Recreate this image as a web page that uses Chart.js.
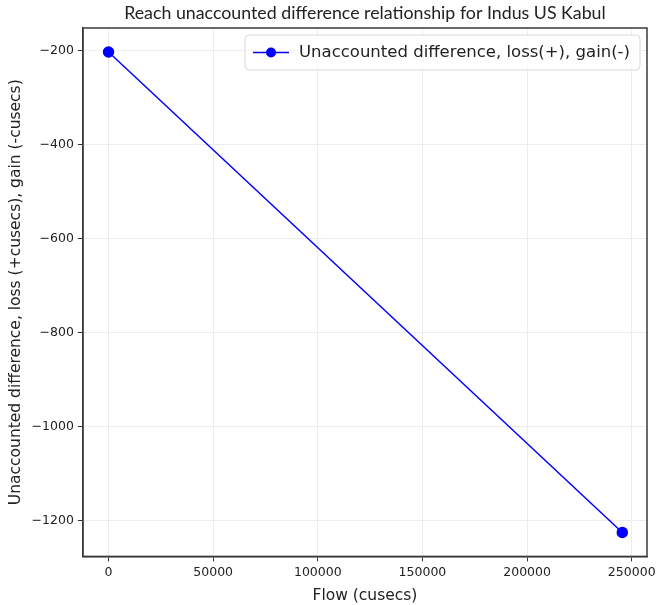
<!DOCTYPE html>
<html>
<head>
<meta charset="utf-8">
<script src="https://cdn.jsdelivr.net/npm/chart.js@4"></script>
<style>
  html, body { margin: 0; padding: 0; background: #fff; }
  #wrap { width: 656px; height: 605px; }
</style>
</head>
<body>
<div id="wrap"><canvas id="grafico" width="656" height="605"></canvas></div>
<script>
// datos
const flujo = [0, 245500];
const diferencia = [-203, -1225];
const ticksX = [0, 50000, 100000, 150000, 200000, 250000];
const ticksY = [-1200, -1000, -800, -600, -400, -200];
const etiquetaSerie = 'Unaccounted difference, loss(+), gain(-)';
const titulo = 'Reach unaccounted difference relationship for Indus US Kabul';

const puntos = flujo.map((f, i) => ({ x: f, y: diferencia[i] }));
const menos = v => String(v).replace('-', '\u2212');

// titulo centrado sobre el area, marco completo y leyenda dentro
const marcoYLeyenda = {
    id: 'marcoYLeyenda',
    afterDatasetsDraw(chart) {
        const ctx = chart.ctx;
        const a = chart.chartArea;
        ctx.save();
        ctx.strokeStyle = '#3a3a3a';
        ctx.lineWidth = 1.5;
        ctx.strokeRect(a.left, a.top, a.right - a.left, a.bottom - a.top);

        // titulo
        ctx.font = '17.8px Lato';
        ctx.fillStyle = '#222';
        ctx.textAlign = 'center';
        ctx.textBaseline = 'middle';
        ctx.fillText(titulo, (a.left + a.right) / 2, 13);

        // leyenda
        ctx.textAlign = 'left';
        ctx.font = '16.5px "DejaVu Sans"';
        const anchoTexto = ctx.measureText(etiquetaSerie).width;
        const w = anchoTexto + 64, h = 35;
        const x = a.right - 7 - w, y = a.top + 7;
        ctx.beginPath();
        ctx.roundRect(x, y, w, h, 4);
        ctx.fillStyle = 'rgba(255,255,255,0.85)';
        ctx.fill();
        ctx.strokeStyle = '#d8d8d8';
        ctx.lineWidth = 1;
        ctx.stroke();
        const cy = y + h / 2;
        ctx.beginPath();
        ctx.moveTo(x + 8, cy);
        ctx.lineTo(x + 44, cy);
        ctx.strokeStyle = '#0000ff';
        ctx.lineWidth = 1.5;
        ctx.stroke();
        ctx.beginPath();
        ctx.arc(x + 26, cy, 5, 0, Math.PI * 2);
        ctx.fillStyle = '#0000ff';
        ctx.fill();
        ctx.fillStyle = '#222';
        ctx.fillText(etiquetaSerie, x + 54, cy);
        ctx.restore();
    }
};

new Chart(document.getElementById('grafico'), {
    type: 'scatter',
    data: {
        datasets: [{
            label: etiquetaSerie,
            data: puntos,
            showLine: true,
            borderColor: '#0000ff',
            backgroundColor: '#0000ff',
            borderWidth: 1.5,
            pointRadius: 5,
            pointHoverRadius: 5
        }]
    },
    options: {
        responsive: false,
        animation: false,
        layout: { padding: { left: 7, right: 9, top: 28, bottom: 0 } },
        plugins: {
            legend: { display: false },
            tooltip: { enabled: false },
            title: { display: false }
        },
        scales: {
            x: {
                type: 'linear',
                min: -12250,
                max: 257300,
                afterBuildTicks: s => { s.ticks = ticksX.map(v => ({ value: v })); },
                afterFit: s => { s.paddingLeft = 0; s.paddingRight = 0; },
                ticks: {
                    color: '#222',
                    font: { family: '"DejaVu Sans"', size: 12.5 },
                    padding: 4,
                    maxRotation: 0,
                    callback: v => menos(v)
                },
                grid: { color: '#ececec', tickColor: '#333', tickLength: 5 },
                border: { color: '#3a3a3a', width: 1.5 },
                title: {
                    display: true,
                    text: 'Flow (cusecs)',
                    color: '#222',
                    font: { family: '"DejaVu Sans"', size: 15.5 },
                    padding: { top: 2, bottom: 0 }
                }
            },
            y: {
                type: 'linear',
                min: -1276,
                max: -152,
                afterBuildTicks: s => { s.ticks = ticksY.map(v => ({ value: v })); },
                ticks: {
                    color: '#222',
                    font: { family: '"DejaVu Sans"', size: 12.5 },
                    padding: 4,
                    callback: v => menos(v)
                },
                grid: { color: '#ececec', tickColor: '#333', tickLength: 5 },
                border: { color: '#3a3a3a', width: 1.5 },
                title: {
                    display: true,
                    text: 'Unaccounted difference, loss (+cusecs), gain (-cusecs)',
                    color: '#222',
                    font: { family: '"DejaVu Sans"', size: 15.5 },
                    padding: { top: 0, bottom: 2 }
                }
            }
        }
    },
    plugins: [marcoYLeyenda]
});
</script>
</body>
</html>
